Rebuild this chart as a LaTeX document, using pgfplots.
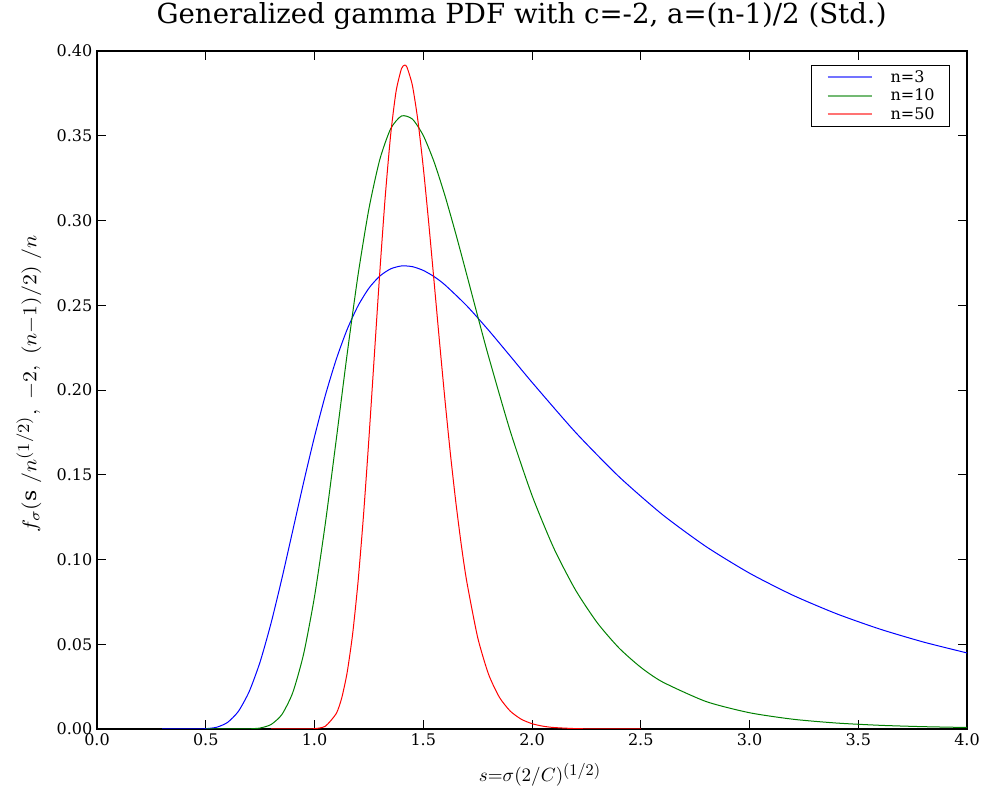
\documentclass[border=0pt]{standalone}
\usepackage{fontspec}
\setmainfont{DejaVu Serif}
\usepackage{graphicx}
\usepackage{pgfplots}
\pgfplotsset{compat=1.18}
\usetikzlibrary{calc}

\definecolor{mplblue}{rgb}{0,0,1}
\definecolor{mplgreen}{rgb}{0,0.5,0}
\definecolor{mplred}{rgb}{1,0,0}
\newcommand{\hf}{^{\scalebox{0.85}{$(1/2)$}}}

\begin{document}
\begin{tikzpicture}
  \begin{axis}[scale only axis, width=652.5pt, height=508.5pt,
    xmin=0, xmax=4, ymin=0, ymax=0.4,
    xtick={0,0.5,1,1.5,2,2.5,3,3.5,4},
    ytick={0,0.05,0.1,0.15,0.2,0.25,0.3,0.35,0.4},
    xtick pos=both, ytick pos=both,
    xticklabel pos=lower, yticklabel pos=left,
    tick align=inside, major tick length=6.75pt,
    every tick/.style={black, line width=0.6pt},
    axis line style={line width=1.3pt},
    /pgf/number format/assume math mode=true,
    xticklabel style={/pgf/number format/.cd, fixed, fixed zerofill, precision=1},
    yticklabel style={/pgf/number format/.cd, fixed, fixed zerofill, precision=2},
    tick label style={font=\fontsize{12}{14}\selectfont},
    scaled y ticks=false,
    title={Generalized gamma PDF with c=-2, a=(n-1)/2 (Std.)},
    title style={font=\fontsize{20.7}{24}\selectfont, at={(axis description cs:0.488,1)},
      anchor=base, yshift=14.25pt},
    xlabel={\scalebox{1.43}{$s{=}\sigma(2/C)\hf$}},
    xlabel style={font=\normalsize, at={(axis description cs:0.5,0)},
      anchor=base, yshift=-39.75pt, xshift=6pt},
    ylabel={\scalebox{1.64}[1.49]{$f_\sigma(\mathrm{s}\ /n\hf,\ -2,\ (n{-}1)/2)\ /n$}},
    ylabel style={font=\normalsize, at={(axis description cs:0,0.509)},
      anchor=center, yshift=51pt},
    legend style={at={(axis description cs:0.9805,0.9794)}, anchor=north east,
      draw=black, line width=0.6pt, fill=white, font=\fontsize{12}{14}\selectfont,
      inner xsep=11.25pt, inner ysep=2pt, row sep=0pt, column sep=13.5pt,
      nodes={inner sep=0pt, text height=10.5pt, text depth=3.4pt}},
    legend cell align=left,
    legend image code/.code={\draw[#1, line width=1.5pt, draw opacity=0.55] (0pt,0pt) -- (33pt,0pt);},
    every axis plot/.append style={line width=0.75pt, line join=round, smooth, tension=0.4},
  ]
    % n = 3
    \addplot[draw=mplblue] coordinates {
      (0.3,0) (0.4,0.0000004) (0.45,0.000014) (0.5,0.00017) (0.55,0.00103)
      (0.6,0.00385) (0.65,0.01040) (0.7,0.02215) (0.75,0.03964) (0.8,0.06232)
      (0.85,0.08873) (0.9,0.11705) (0.95,0.14548) (1.0,0.17246) (1.05,0.19691)
      (1.1,0.21810) (1.15,0.23568) (1.2,0.24961) (1.25,0.26003) (1.3,0.26719)
      (1.35,0.27146) (1.4,0.27319) (1.45,0.27277) (1.5,0.27055) (1.55,0.26687)
      (1.6,0.26199) (1.7,0.24970) (1.8,0.23531) (1.9,0.22000) (2.0,0.20454)
      (2.2,0.17503) (2.4,0.14885) (2.6,0.12645) (2.8,0.10764) (3.0,0.09193)
      (3.2,0.07887) (3.4,0.06799) (3.6,0.05891) (3.8,0.05129) (4.0,0.04487)};
    % n = 10
    \addplot[draw=mplgreen] coordinates {
      (0.5,0) (0.6,0) (0.65,0.0000067) (0.7,0.0000834) (0.75,0.000581)
      (0.8,0.00262) (0.85,0.00852) (0.9,0.02144) (0.95,0.04426) (1.0,0.07806)
      (1.05,0.12142) (1.1,0.17071) (1.15,0.22106) (1.2,0.26769) (1.25,0.30676)
      (1.3,0.33587) (1.35,0.35407) (1.4,0.36167) (1.45,0.35983) (1.5,0.35017)
      (1.55,0.33450) (1.6,0.31457) (1.65,0.29197) (1.7,0.26801) (1.75,0.24373)
      (1.8,0.21991) (1.9,0.17572) (2.0,0.13783) (2.1,0.10676) (2.2,0.08201)
      (2.3,0.06268) (2.4,0.04779) (2.5,0.03640) (2.6,0.02775) (2.8,0.01621)
      (3.0,0.00959) (3.2,0.00575) (3.4,0.00351) (3.6,0.00217) (3.8,0.00137)
      (4.0,0.00088)};
    % n = 50
    \addplot[draw=mplred] coordinates {
      (0.8,0) (0.9,0.0000003) (0.95,0.0000107) (1.0,0.000183) (1.05,0.00166)
      (1.1,0.00913) (1.125,0.01824) (1.15,0.03324) (1.175,0.05571) (1.2,0.08654)
      (1.225,0.12552) (1.25,0.17102) (1.275,0.22014) (1.3,0.26907) (1.325,0.31371)
      (1.35,0.35033) (1.375,0.37614) (1.4,0.38962) (1.4142,0.39161) (1.425,0.39049)
      (1.45,0.37977) (1.475,0.35930) (1.5,0.33146) (1.525,0.29877) (1.55,0.26363)
      (1.575,0.22815) (1.6,0.19393) (1.625,0.16217) (1.65,0.13359) (1.675,0.10852)
      (1.7,0.08705) (1.75,0.05414) (1.8,0.03238) (1.85,0.01874) (1.9,0.01055)
      (1.95,0.00580) (2.0,0.00313) (2.05,0.00166) (2.1,0.00087) (2.2,0.00023)
      (2.3,0.00006) (2.5,0)};
    \legend{n=3, n=10, n=50}
    \coordinate (bl) at (rel axis cs:0,0);
    \coordinate (tr) at (rel axis cs:1,1);
  \end{axis}
  \pgfresetboundingbox
  \path ($(bl)+(-72.75pt,-48pt)$) rectangle ($(tr)+(16.5pt,38.25pt)$);
\end{tikzpicture}
\end{document}
